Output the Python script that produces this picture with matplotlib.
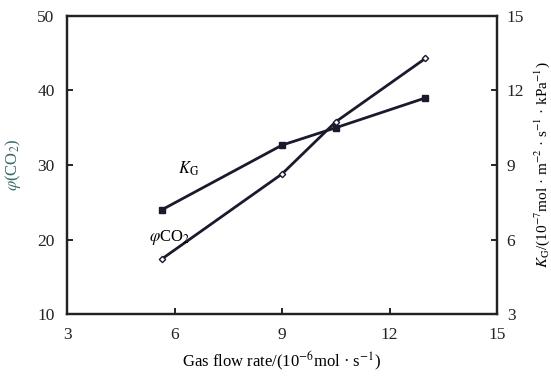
import matplotlib
matplotlib.use("Agg")
import matplotlib.pyplot as plt

plt.rcParams['font.family'] = ['Liberation Serif', 'DejaVu Serif']
plt.rcParams['mathtext.fontset'] = 'stix'

flow = [5.65, 9.0, 10.5, 13.0]
phi_co2 = [17.4, 28.8, 35.8, 44.3]
flow_kg = [5.65, 9.0, 10.5, 13.0]
kg = [7.2, 9.8, 10.5, 11.7]

xticks = [3, 6, 9, 12, 15]
yticks_left = [10, 20, 30, 40, 50]
yticks_right = [3, 6, 9, 12, 15]

fig = plt.figure(figsize=(5.51, 3.77), dpi=100)
ax = fig.add_axes([0.1216, 0.167, 0.7804, 0.7906])
ax2 = ax.twinx()

c = '#1a1a2e'
ax.plot(flow, phi_co2, color=c, lw=2, marker='D', ms=3.2, mfc='white', mec=c, mew=1)
ax2.plot(flow_kg, kg, color=c, lw=2, marker='s', ms=4, mfc=c, mec=c)

ax.set_xlim(3, 15)
ax.set_ylim(10, 50)
ax2.set_ylim(3, 15)
ax.set_xticks(xticks)
ax.set_yticks(yticks_left)
ax2.set_yticks(yticks_right)

for a in (ax, ax2):
    for s in a.spines.values():
        s.set_linewidth(1.6)
        s.set_color('#222')
ax.tick_params(direction='in', length=4, width=1.2, labelsize=12.5, top=False, pad=9, labelcolor='#222')
ax2.tick_params(direction='in', length=4, width=1.2, labelsize=12.5, pad=7, labelcolor='#222')

ax.set_xlabel('Gas flow rate/(10$^{-6}$mol · s$^{-1}$)', fontsize=12, labelpad=5)
ax.set_ylabel(r'$\varphi$(CO$_2$)', fontsize=12, color='#3c6a6a', labelpad=10)
ax2.set_ylabel(r'$K_{\rm G}$/(10$^{-7}$mol · m$^{-2}$ · s$^{-1}$ · kPa$^{-1}$)', fontsize=11, labelpad=6)

ax.text(6.4, 29.5, r'$K_{\rm G}$', fontsize=12, ha='center', va='center')
ax.text(5.85, 20.3, r'$\varphi$CO$_2$', fontsize=12, ha='center', va='center')

fig.savefig('out.png', dpi=100)
